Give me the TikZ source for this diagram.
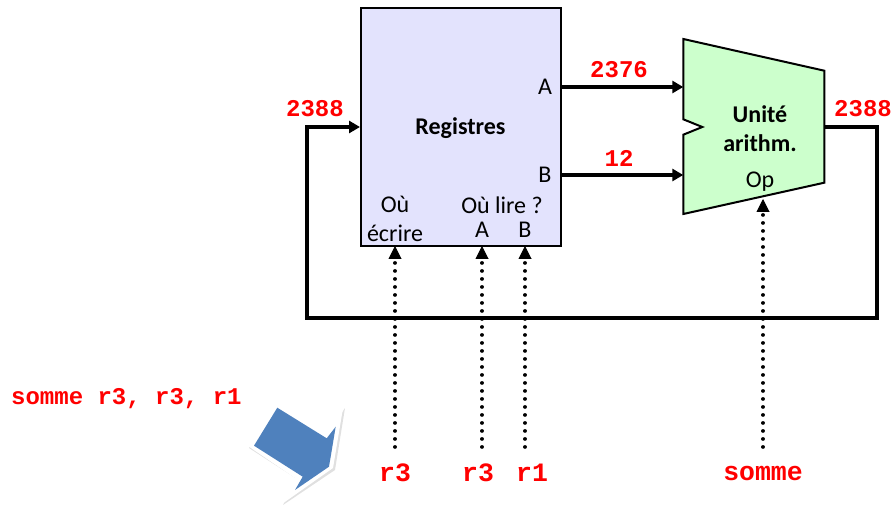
\documentclass[tikz,border=0pt]{standalone}
\usepackage{fontspec}
\setmainfont{Carlito}
\newfontfamily\codefont{Liberation Mono}[Scale=1.0]
\usetikzlibrary{arrows.meta,shadows,calc}
\definecolor{regfill}{RGB}{227,227,253}
\definecolor{alufill}{RGB}{204,255,204}
\definecolor{redcode}{RGB}{255,0,0}
\definecolor{arrowblue}{RGB}{79,129,189}
\tikzset{
  x=1pt,y=-1pt,
  lbl/.style={font=\fontsize{24}{26}\selectfont,inner sep=0pt,text=black},
  blbl/.style={font=\fontsize{24}{26}\selectfont\bfseries,inner sep=0pt,text=black,align=center},
  code/.style={font=\fontsize{24}{26}\selectfont\codefont\bfseries,inner sep=0pt,text=redcode},
  bigcode/.style={font=\fontsize{26.5}{28}\selectfont\codefont\bfseries,inner sep=0pt,text=redcode},
  blockline/.style={draw=black,line width=2pt},
  tip/.style={-{Triangle[length=11pt,width=12pt]}},
  bus/.style={line width=3.6pt,tip},
  feed/.style={line width=3.8pt,line join=miter},
  ctrl/.style={line width=3.6pt,line cap=round,dash pattern=on 0.1pt off 7.9pt},
  ctrltip/.style={-{Triangle[length=13pt,width=13pt]}},
}
\begin{document}
\begin{tikzpicture}
\useasboundingbox (0,0) rectangle (895,505);
% registers
\node[blockline,fill=regfill,minimum width=200.5pt,minimum height=238pt,inner sep=0pt,anchor=north west] (reg) at (359.5,7.5) {};
% ALU
\draw[blockline,fill=alufill,line join=miter] (683.3,39) -- (824.3,70.7) -- (824.3,182.7) -- (683.3,214) -- (683.3,134.7) -- (702.3,127) -- (683.3,119.3) -- cycle;
% anchor coordinates
\coordinate (regA) at (561,87);
\coordinate (regB) at (561,175);
\coordinate (aluA) at (683.3,87);
\coordinate (aluB) at (683.3,175);
\coordinate (aluOut) at (824.3,127);
\coordinate (regIn) at (360,127);
\coordinate (c1) at (877,127);
\coordinate (c2) at (877,318);
\coordinate (c3) at (307,318);
\coordinate (c4) at (307,127);
% buses
\draw[bus] (regA) -- (aluA);
\draw[bus] (regB) -- (aluB);
\draw[feed,tip] (aluOut) -- (c1) -- (c2) -- (c3) -- (c4) -- (regIn);
% labels
\node[code] (l2376) at (619,70) {2376};
\node[code] (l12) at (619,158) {12};
\node[code] (l2388a) at (315,109) {2388};
\node[code] (l2388b) at (863,109) {2388};
\node[blbl] (regname) at (460.5,128) {Registres};
\node[lbl] (pa) at (545,87) {A};
\node[lbl] (pb) at (545,175) {B};
\node[lbl] (ou) at (395,204) {Où};
\node[lbl] (ecr) at (395,233) {écrire};
\node[lbl] (lire) at (502,205) {Où lire ?};
\node[lbl] (ra) at (482,230) {A};
\node[lbl] (rb) at (525,230) {B};
\node[blbl] (un) at (760,114) {Unité};
\node[blbl] (ar) at (760,143) {arithm.};
\node[lbl] (op) at (760,182) {Op};
\node[bigcode] (s3) at (395,473) {r3};
\node[bigcode] (s3b) at (478,473) {r3};
\node[bigcode] (s1) at (532,473) {r1};
\node[bigcode] (sop) at (763,473) {somme};
\node[code,anchor=west] (instr) at (11,398.5) {somme r3, r3, r1};
% control lines
\foreach \n/\x/\ytop in {s3/395/246,s3b/482/246,s1/525/246,sop/763/199}{
  \draw[ctrl] (\x,447) -- (\x,\ytop+14);
  \draw[line width=1pt,ctrltip] (\x,\ytop+12) -- (\x,\ytop);
}
% big arrow
\fill[black!12] (249,448) -- (276,405) -- (327,436) -- (345,408) -- (335,470) -- (283,505) -- (297,479) -- cycle;
\fill[white] (248,446) -- (275,403) -- (326,434) -- (343,408) -- (333,468) -- (282,504) -- (295,478) -- cycle;
\fill[arrowblue] (277.3,407.7) -- (326.7,438.3) -- (335.7,426.7) -- (329,466.7) -- (295,490) -- (302.7,476.7) -- (254,445.7) -- cycle;
\end{tikzpicture}
\end{document}
